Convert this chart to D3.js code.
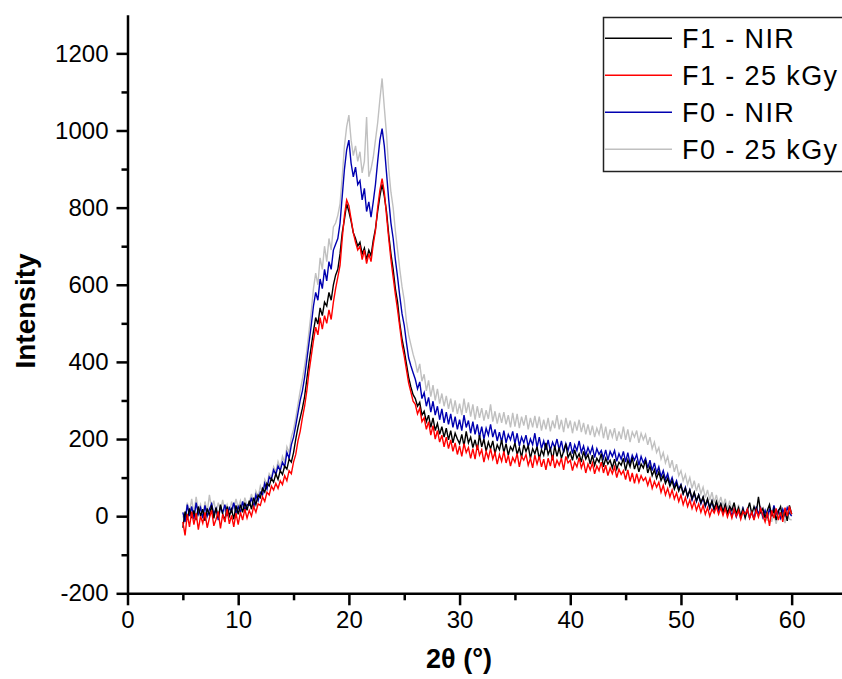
<!DOCTYPE html>
<html>
<head>
<meta charset="utf-8">
<script src="https://cdn.jsdelivr.net/npm/d3@7"></script>
<style>
  body { margin: 0; background: #fff; }
  svg { display: block; font-family: "Liberation Sans", Arial, sans-serif; }
</style>
</head>
<body>
<div id="chart"></div>
<script>
// 2theta grid: 5 to 60 deg, one reading every 0.2 deg
var startAngle = 5;
var stepAngle = 0.2;

var seriesNames = ["F1 - NIR", "F1 - 25 kGy", "F0 - NIR", "F0 - 25 kGy"];

// F1 - NIR (black), one row per degree (x.0 x.2 x.4 x.6 x.8)
var f1Nir = [
  -30, 12, -8, 20, -5,     15, -10, 25, 0, 18,      -12, 20, 2, 28, -6,      22, -4, 30, 5, -10,
  25, 0, 18, -8, 28,       5, 30, 10, 35, 15,       40, 18, 48, 30, 55,      48, 72, 62, 85, 78,
  98, 88, 110, 95, 118,    108, 130, 122, 148, 140, 165, 200, 230, 255, 280, 310, 355, 400, 440, 480,
  515, 498, 540, 520, 555, 545, 580, 560, 600, 625, 640, 680, 735, 770, 810, 790, 765, 735, 720, 700,
  710, 680, 695, 665, 690, 675, 715, 745, 790, 830, 860, 830, 790, 730, 680, 640, 590, 555, 500, 460,
  430, 395, 360, 335, 315, 305, 285, 295, 262, 272, 245, 262, 230, 255, 222, 240, 212, 232, 205, 228,
  198, 222, 190, 215, 200, 188, 212, 182, 220, 190, 205, 178, 198, 172, 210, 180, 200, 168, 192, 175,
  195, 162, 185, 172, 198, 165, 188, 158, 180, 170, 190, 160, 178, 152, 185, 168, 182, 150, 175, 162,
  180, 148, 172, 158, 190, 160, 175, 145, 182, 155, 178, 150, 168, 188, 152, 165, 145, 172, 150, 162,
  140, 168, 148, 160, 135, 158, 132, 150, 140, 162, 128, 150, 135, 145, 125, 148, 122, 140, 132, 150,
  118, 145, 128, 152, 122, 140, 115, 135, 125, 145, 112, 130, 105, 120, 98,  115, 92, 105, 85, 98,
  78, 92, 70, 85, 65,      80, 58, 72, 52, 68,      45, 62, 40, 55, 35,      50, 28, 45, 22, 40,
  18, 38, 20, 32, 12,      30, 8, 25, 15, 35,       5, 22, 0, 18, -5,        15, 35, 5, 25, 8,
  50, 10, 20, -5, 15,      30, 0, 18, -10, 12,      25, -8, 15, -12, 28,
  5
];

// F1 - 25 kGy (red)
var f1Dose = [
  -15, -50, 5, -28, 12,    -22, 8, -35, 0, -18,     10, -30, -5, 15, -25,    -8, 12, -32, 5, -15,
  18, -20, 2, -28, 8,      -22, 10, -10, 18, -5,    15, 0, 25, 10, 32,       28, 50, 38, 62, 55,
  78, 68, 85, 72, 92,      82, 105, 92, 118, 110,   140, 160, 195, 220, 255, 285, 325, 375, 415, 455,
  490, 470, 515, 485, 520, 500, 535, 510, 555, 590, 620, 650, 720, 780, 820, 805, 770, 735, 710, 690,
  700, 665, 690, 655, 680, 660, 705, 740, 800, 845, 875, 840, 780, 720, 665, 620, 575, 535, 490, 445,
  415, 380, 345, 322, 298, 290, 265, 280, 245, 255, 225, 245, 210, 235, 200, 222, 192, 210, 180, 205,
  175, 198, 168, 190, 160, 182, 155, 188, 165, 178, 150, 175, 148, 185, 158, 172, 140, 168, 150, 175,
  148, 165, 135, 160, 142, 168, 138, 158, 130, 152, 140, 162, 128, 155, 145, 160, 132, 150, 125, 158,
  135, 155, 128, 148, 120, 150, 130, 158, 125, 145, 132, 150, 120, 155, 138, 145, 118, 140, 128, 152,
  125, 142, 112, 135, 120, 138, 110, 130, 118, 140, 112, 132, 105, 125, 110, 128, 100, 122, 108, 118,
  95, 120, 90, 112, 85,    110, 88, 105, 92, 100,    80, 98, 72, 90, 75,      88, 62, 80, 55, 72,
  50, 68, 45, 60, 38,      55, 30, 48, 25, 42,      20, 38, 15, 32, 10,      28, 5, 22, 0, 18,
  8, 25, 5, 22, 2,         20, -2, 15, -5, 18,      0, 15, -8, 12, 5,        18, -5, 10, -10, 15,
  -2, 20, 2, -15, 10,      -25, 15, -5, 20, -10,    10, -15, 22, 0, 25,
  5
];

// F0 - NIR (blue)
var f0Nir = [
  10, -15, 30, 0, 25,      -8, 35, 5, 22, -5,       28, 0, 18, 32, 5,        20, -10, 25, 8, 30,
  0, 22, 12, 35, 8,        25, 10, 38, 15, 30,      28, 48, 22, 55, 40,      62, 55, 85, 70, 102,
  95, 120, 108, 130, 118,  140, 128, 165, 150, 185, 205, 235, 268, 300, 325, 360, 405, 450, 495, 545,
  580, 560, 615, 590, 640, 610, 660, 640, 690, 705, 720, 760, 830, 900, 950, 975, 915, 880, 905, 860,
  870, 820, 850, 790, 815, 775, 815, 860, 920, 975, 1005, 960, 890, 820, 760, 720, 665, 620, 570, 525,
  495, 450, 410, 390, 372, 355, 330, 348, 305, 320, 285, 308, 270, 298, 262, 285, 250, 278, 242, 270,
  238, 265, 230, 258, 225, 250, 222, 262, 230, 248, 215, 245, 212, 238, 205, 232, 200, 228, 210, 238,
  205, 225, 195, 218, 192, 222, 190, 212, 198, 220, 188, 215, 182, 205, 190, 210, 180, 200, 185, 215,
  178, 205, 175, 195, 172, 198, 170, 192, 178, 200, 172, 195, 165, 188, 170, 192, 162, 185, 170, 195,
  165, 182, 158, 178, 162, 180, 152, 175, 160, 170, 150, 172, 145, 168, 155, 170, 142, 162, 148, 168,
  140, 165, 135, 158, 145, 160, 132, 155, 138, 150, 125, 145, 118, 138, 112, 128, 102, 118, 95, 110,
  85, 100, 78, 92, 70,     82, 58, 75, 50, 68,      42, 60, 38, 55, 32,      48, 25, 42, 20, 38,
  15, 35, 12, 30, 8,       28, 5, 22, 0, 18,        -2, 15, -5, 20, 2,       18, -5, 12, -8, 25,
  5, 22, -2, 15, -5,       20, 0, 28, 5, 15,        -5, 18, 2, 22, 8,
  0
];

// F0 - 25 kGy (grey)
var f0Dose = [
  0, -12, 35, 10, 45,      5, 50, 15, 30, -8,       38, 10, 55, 20, 40,      8, 35, 15, 42, 12,
  30, 5, 38, 18, 45,       22, 40, 15, 48, 28,      35, 58, 30, 65, 50,      78, 60, 95, 82, 110,
  100, 128, 115, 142, 125, 155, 140, 180, 165, 205, 225, 255, 290, 325, 355, 390, 430, 480, 530, 590,
  630, 600, 670, 640, 700, 660, 720, 690, 750, 760, 780, 810, 880, 960, 1010, 1040, 975, 935, 960, 920,
  945, 890, 920, 1035, 880, 900, 930, 975, 1020, 1080, 1135, 1060, 990, 900, 840, 800, 740, 690, 640, 595,
  560, 505, 470, 445, 420, 400, 372, 395, 350, 368, 325, 352, 310, 340, 300, 330, 292, 318, 285, 312,
  278, 305, 270, 300, 265, 292, 262, 305, 268, 295, 258, 290, 250, 285, 255, 280, 248, 275, 252, 290,
  245, 272, 240, 268, 242, 270, 238, 262, 230, 268, 232, 265, 228, 258, 235, 262, 225, 255, 230, 260,
  228, 258, 222, 250, 225, 255, 220, 248, 228, 262, 225, 250, 218, 255, 228, 248, 215, 245, 222, 250,
  218, 242, 212, 238, 210, 235, 205, 228, 212, 240, 202, 232, 198, 225, 205, 228, 195, 220, 200, 232,
  198, 225, 192, 218, 205, 222, 190, 215, 198, 212, 185, 205, 175, 192, 165, 178, 148, 165, 138, 155,
  125, 145, 115, 135, 105, 118, 92, 108, 82, 100,   72, 92, 65, 85, 58,      75, 48, 68, 42, 62,
  35, 55, 30, 50, 25,      45, 18, 40, 12, 35,      8, 30, 5, 25, 0,         22, -5, 15, -10, 20,
  0, 18, -8, 12, -12,      15, -15, 8, -20, 10,     -5, 15, -18, 10, -8,
  -10
];

var xMajorTicks = [0, 10, 20, 30, 40, 50, 60];
var xMinorTicks = [5, 15, 25, 35, 45, 55];
var yMajorTicks = [-200, 0, 200, 400, 600, 800, 1000, 1200];
var yMinorTicks = [-100, 100, 300, 500, 700, 900, 1100];

var width = 842, height = 679;

var svg = d3.select("#chart").append("svg")
  .attr("width", width)
  .attr("height", height);

var x = d3.scaleLinear().domain([0, 65]).range([127.5, 847]);
var y = d3.scaleLinear().domain([-200, 1300]).range([593.3, 14.8]);

var angles = f1Nir.map(function(d, i) { return startAngle + i * stepAngle; });

var series = [
  { name: seriesNames[0], values: f1Nir, color: "#000000" },
  { name: seriesNames[1], values: f1Dose, color: "#ff0000" },
  { name: seriesNames[2], values: f0Nir, color: "#0000b0" },
  { name: seriesNames[3], values: f0Dose, color: "#c0c0c0" }
];

var line = d3.line()
  .x(function(d, i) { return x(angles[i]); })
  .y(function(d) { return y(d); });

// grey first, red last -> red sits on top like the reference
var drawOrder = [3, 2, 0, 1];
drawOrder.forEach(function(k) {
  svg.append("path")
    .datum(series[k].values)
    .attr("fill", "none")
    .attr("stroke", series[k].color)
    .attr("stroke-width", 1.4)
    .attr("d", line);
});

var plain = function(d) { return String(d); };

// axes
svg.append("g")
  .attr("transform", "translate(0," + y(-200) + ")")
  .call(d3.axisBottom(x).tickValues(xMajorTicks).tickSize(12).tickSizeOuter(0).tickPadding(6).tickFormat(plain));
svg.append("g")
  .attr("transform", "translate(0," + y(-200) + ")")
  .call(d3.axisBottom(x).tickValues(xMinorTicks).tickSize(7).tickFormat(""))
  .select(".domain").remove();

svg.append("g")
  .attr("transform", "translate(" + x(0) + ",0)")
  .call(d3.axisLeft(y).tickValues(yMajorTicks).tickSize(11).tickSizeOuter(0).tickPadding(8).tickFormat(plain));
svg.append("g")
  .attr("transform", "translate(" + x(0) + ",0)")
  .call(d3.axisLeft(y).tickValues(yMinorTicks).tickSize(6).tickFormat(""))
  .select(".domain").remove();

svg.selectAll(".domain").attr("stroke", "#000").attr("stroke-width", 2.5);
svg.selectAll(".tick line").attr("stroke", "#000").attr("stroke-width", 2.5);
svg.selectAll(".tick text")
  .attr("fill", "#000")
  .style("font-size", "24px")
  .style("font-family", "'Liberation Sans', Arial, sans-serif");

// axis titles
svg.append("text")
  .attr("x", 459)
  .attr("y", 668)
  .attr("text-anchor", "middle")
  .style("font-size", "27px")
  .style("font-weight", "bold")
  .text("2θ (°)");

svg.append("text")
  .attr("transform", "translate(35,311) rotate(-90)")
  .attr("text-anchor", "middle")
  .style("font-size", "28px")
  .style("font-weight", "bold")
  .text("Intensity");

// legend
var legend = svg.append("g");
legend.append("rect")
  .attr("x", 603.5)
  .attr("y", 17.5)
  .attr("width", 245)
  .attr("height", 154)
  .attr("fill", "#fff")
  .attr("stroke", "#222")
  .attr("stroke-width", 1.5);

series.forEach(function(s, i) {
  var ly = 38.3 + i * 37;
  legend.append("line")
    .attr("x1", 605).attr("x2", 672)
    .attr("y1", ly).attr("y2", ly)
    .attr("stroke", s.color)
    .attr("stroke-width", 1.5);
  legend.append("text")
    .attr("x", 682)
    .attr("y", ly + 10)
    .style("font-size", "27px")
    .style("letter-spacing", "1.4px")
    .text(s.name);
});
</script>
</body>
</html>
